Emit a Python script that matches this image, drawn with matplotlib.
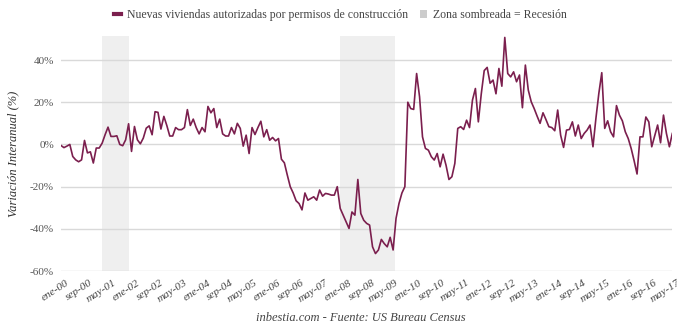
import numpy as np
import matplotlib.pyplot as plt
import matplotlib.transforms as mtransforms
from matplotlib.patches import Patch
from matplotlib.lines import Line2D

# Variación interanual mensual, ene-2000 a may-2017
valores = [
    -0.5, -1.5, -0.8, 0, -5.7, -7.3, -8.2, -7.3, 1.9, -4, -3.5, -8.8,
    -1.7, -1.7, 0.6, 4.6, 8.2, 3.8, 3.8, 4.1, 0, -0.6, 2.2, 9.8,
    -3.3, 8.5, 2.2, 0.3, 3, 7.7, 8.8, 4.6, 15.5, 15.2, 7.3, 13.3,
    9, 4, 4, 8, 7, 7, 8, 16.5, 9, 12, 8, 5,
    8, 6, 18, 15, 17, 8, 12, 5, 4, 4, 8, 5,
    10, 7.6, -0.8, 4.4, -4.3, 8, 4.7, 8, 11, 3.6, 7, 2,
    3.3, 1.7, 2.8, -7, -8.7, -14.5, -20, -23, -26.7, -28, -31, -23,
    -26.4, -25.6, -24.8, -26.4, -21.6, -24.5, -23.2, -23.5, -24, -24, -20, -30.3,
    -33.5, -36.6, -39.8, -32, -33.5, -16.6, -32.7, -35.9, -37.4, -38.2, -48.5, -51.7,
    -50, -45, -47, -48.5, -44, -50, -35, -28, -23, -20, 20, 17,
    16.6, 33.6, 22.6, 3.6, -1.9, -2.7, -5.8, -7.4, -4.3, -10.6, -4.6, -9.8,
    -16.6, -15.3, -9, 7.6, 8.4, 7.1, 11.5, 8, 21, 26.5, 10.7, 24,
    35, 36.5, 29, 30.5, 24, 36, 27.6, 50.7, 33.6, 32, 34.4, 29.7,
    32.9, 17.4, 37.6, 25.7, 20.2, 17, 13.4, 10, 15, 11.8, 8.4, 8,
    6.5, 16.3, 4.4, -1.4, 6.8, 7.1, 10.7, 4, 9.2, 2.8, 5.2, 6.8,
    9.2, -1.1, 12.3, 24.2, 34, 7.6, 11.2, 6, 3.6, 18.4, 13.9, 11.2,
    6, 2.8, -1.9, -7.7, -14, 3.6, 3.6, 13, 10.7, -1.1, 4, 9.2,
    0.8, 13.9, 5.2, -1.1, 5.2,
]

meses = ["ene", "feb", "mar", "abr", "may", "jun", "jul", "ago", "sep", "oct", "nov", "dic"]
etiquetas = ["%s-%02d" % (meses[i % 12], i // 12) for i in range(len(valores))]

# recesiones (indices de mes): mar-01 a nov-01, dic-07 a jun-09
recesiones = [(14, 23), (95, 113.5)]

color_linea = "#7b1f4e"
serif = "Liberation Serif"

fig = plt.figure(figsize=(6.8, 3.31), dpi=100)
ax = fig.add_axes([0.0897, 0.181, 0.899, 0.711])

x = np.arange(len(valores))
for a, b in recesiones:
    ax.axvspan(a, b, color="#efefef", zorder=0, lw=0)

ax.plot(x, valores, color=color_linea, lw=1.2, zorder=3)

ax.set_xlim(0, len(valores) - 1)
ax.set_ylim(-60, 51.5)
ax.set_yticks([-60, -40, -20, 0, 20, 40])
ax.set_yticklabels(["%d%%" % v for v in [-60, -40, -20, 0, 20, 40]],
                   fontfamily=serif, fontsize=8, color="#555555")
ax.yaxis.grid(True, color="#d9d9d9", lw=1)
ax.set_axisbelow(True)

ticks = list(range(0, len(valores), 8))
ax.set_xticks(ticks)
ax.set_xticklabels([etiquetas[t] for t in ticks], rotation=33, ha="right",
                   rotation_mode="anchor", fontfamily=serif, fontstyle="italic",
                   fontsize=8, color="#444444")
ax.tick_params(length=0, pad=5)
desplaza = mtransforms.ScaledTranslation(5 / 100, 0, fig.dpi_scale_trans)
for lab in ax.get_xticklabels():
    lab.set_transform(lab.get_transform() + desplaza)

for s in ax.spines.values():
    s.set_visible(False)

ax.set_ylabel("Variación Interanual (%)", fontfamily=serif, fontstyle="italic",
              fontsize=9, color="#333333", labelpad=8)

handles = [Line2D([], [], color=color_linea, lw=3),
           Patch(facecolor="#cccccc", edgecolor="none")]
fig.legend(handles, ["Nuevas viviendas autorizadas por permisos de construcción",
                     "Zona sombreada = Recesión"],
           loc="center", bbox_to_anchor=(0.5, 0.955), ncol=2, frameon=False,
           prop={"family": serif, "size": 8.5}, handlelength=0.6, handleheight=0.7,
           handletextpad=0.5, columnspacing=1.0, labelcolor="#444444")

fig.text(0.53, 0.03, "inbestia.com - Fuente: US Bureau Census", ha="center",
         fontfamily=serif, fontstyle="italic", fontsize=9, color="#444444")

fig.savefig("out.png", dpi=100)
